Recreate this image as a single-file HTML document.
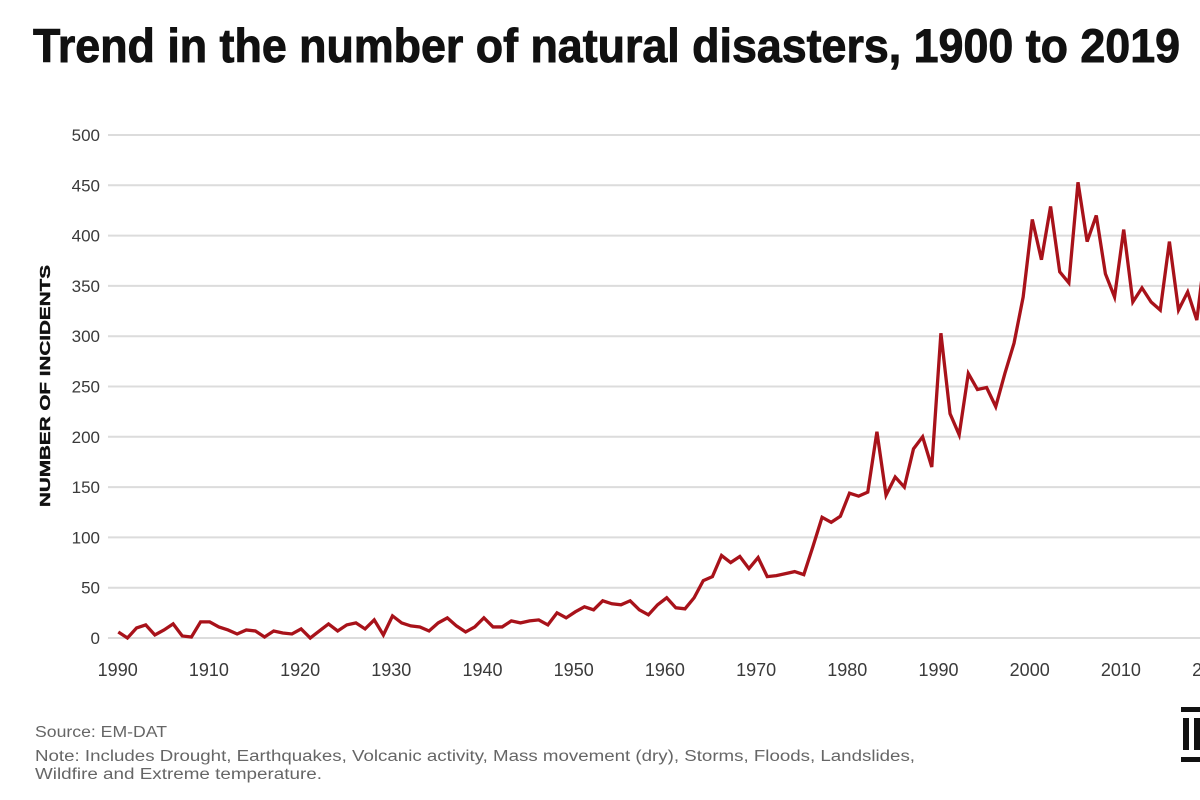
<!DOCTYPE html>
<html>
<head>
<meta charset="utf-8">
<style>
  html,body{margin:0;padding:0;background:#fff;}
  body{width:1200px;height:800px;overflow:hidden;}
  svg{display:block;}
  text{font-family:"Liberation Sans",sans-serif;}
</style>
</head>
<body>
<svg width="1200" height="800" viewBox="0 0 1200 800" xmlns="http://www.w3.org/2000/svg">
  <rect x="0" y="0" width="1200" height="800" fill="#ffffff"/>

  <!-- Title -->
  <text x="33" y="62" font-size="47" font-weight="bold" fill="#111" stroke="#111" stroke-width="0.9" textLength="1147" lengthAdjust="spacingAndGlyphs">Trend in the number of natural disasters, 1900 to 2019</text>

  <!-- Gridlines -->
  <g stroke="#dcdcdc" stroke-width="2">
    <line x1="108" y1="135" x2="1200" y2="135"/>
    <line x1="108" y1="185.3" x2="1200" y2="185.3"/>
    <line x1="108" y1="235.6" x2="1200" y2="235.6"/>
    <line x1="108" y1="285.9" x2="1200" y2="285.9"/>
    <line x1="108" y1="336.2" x2="1200" y2="336.2"/>
    <line x1="108" y1="386.5" x2="1200" y2="386.5"/>
    <line x1="108" y1="436.8" x2="1200" y2="436.8"/>
    <line x1="108" y1="487.1" x2="1200" y2="487.1"/>
    <line x1="108" y1="537.4" x2="1200" y2="537.4"/>
    <line x1="108" y1="587.7" x2="1200" y2="587.7"/>
    <line x1="108" y1="638" x2="1200" y2="638"/>
  </g>

  <!-- Y tick labels -->
  <g font-size="17" fill="#3a3a3a" text-anchor="end">
    <text x="100" y="141">500</text>
    <text x="100" y="191.3">450</text>
    <text x="100" y="241.6">400</text>
    <text x="100" y="291.9">350</text>
    <text x="100" y="342.2">300</text>
    <text x="100" y="392.5">250</text>
    <text x="100" y="442.8">200</text>
    <text x="100" y="493.1">150</text>
    <text x="100" y="543.4">100</text>
    <text x="100" y="593.7">50</text>
    <text x="100" y="644">0</text>
  </g>

  <!-- Y axis title -->
  <text transform="translate(50,386) rotate(-90)" x="0" y="0" text-anchor="middle" font-size="15" font-weight="bold" fill="#111" stroke="#111" stroke-width="0.4" textLength="242" lengthAdjust="spacingAndGlyphs">NUMBER OF INCIDENTS</text>

  <!-- X tick labels -->
  <g font-size="18" fill="#3a3a3a" text-anchor="middle">
    <text x="117.7" y="676">1990</text>
    <text x="208.9" y="676">1910</text>
    <text x="300.1" y="676">1920</text>
    <text x="391.3" y="676">1930</text>
    <text x="482.5" y="676">1940</text>
    <text x="573.7" y="676">1950</text>
    <text x="664.9" y="676">1960</text>
    <text x="756.1" y="676">1970</text>
    <text x="847.3" y="676">1980</text>
    <text x="938.5" y="676">1990</text>
    <text x="1029.7" y="676">2000</text>
    <text x="1120.9" y="676">2010</text>
    <text x="1212.1" y="676">2020</text>
  </g>

  <!-- Data line -->
  <polyline transform="translate(118.3,638) scale(9.14,-1.006)" vector-effect="non-scaling-stroke"
    fill="none" stroke="#a8121a" stroke-width="3.3" stroke-linejoin="miter" stroke-miterlimit="4"
    points="0,6 1,0 2,10 3,13 4,3 5,8 6,14 7,2 8,1 9,16 10,16 11,11 12,8 13,4 14,8 15,7 16,1 17,7 18,5 19,4 20,9 21,0 22,7 23,14 24,7 25,13 26,15 27,9 28,18 29,3 30,22 31,15 32,12 33,11 34,7 35,15 36,20 37,12 38,6 39,11 40,20 41,11 42,11 43,17 44,15 45,17 46,18 47,13 48,25 49,20 50,26 51,31 52,28 53,37 54,34 55,33 56,37 57,28 58,23 59,33 60,40 61,30 62,29 63,40 64,57 65,61 66,82 67,75 68,81 69,69 70,80 71,61 72,62 73,64 74,66 75,63 76,91 77,120 78,115 79,121 80,144 81,141 82,145 83,205 84,142 85,160 86,150 87,188 88,200 89,170 90,303 91,223 92,202 93,263 94,247 95,249 96,230 97,263 98,293 99,339 100,416 101,376 102,429 103,364 104,353 105,453 106,394 107,420 108,362 109,339 110,406 111,334 112,348 113,334 114,326 115,394 116,326 117,344 118,316 119,390"/>

  <!-- Footer -->
  <g fill="#666" font-size="15.5">
    <text x="35" y="737" textLength="132" lengthAdjust="spacingAndGlyphs">Source: EM-DAT</text>
    <text x="35" y="761" textLength="880" lengthAdjust="spacingAndGlyphs">Note: Includes Drought, Earthquakes, Volcanic activity, Mass movement (dry), Storms, Floods, Landslides,</text>
    <text x="35" y="779" textLength="287" lengthAdjust="spacingAndGlyphs">Wildfire and Extreme temperature.</text>
  </g>

  <!-- Logo -->
  <g fill="#111">
    <rect x="1181" y="707" width="19" height="5"/>
    <rect x="1183" y="718" width="6" height="32"/>
    <rect x="1194" y="718" width="6" height="32"/>
    <rect x="1181" y="757" width="19" height="5"/>
  </g>
</svg>
</body>
</html>
